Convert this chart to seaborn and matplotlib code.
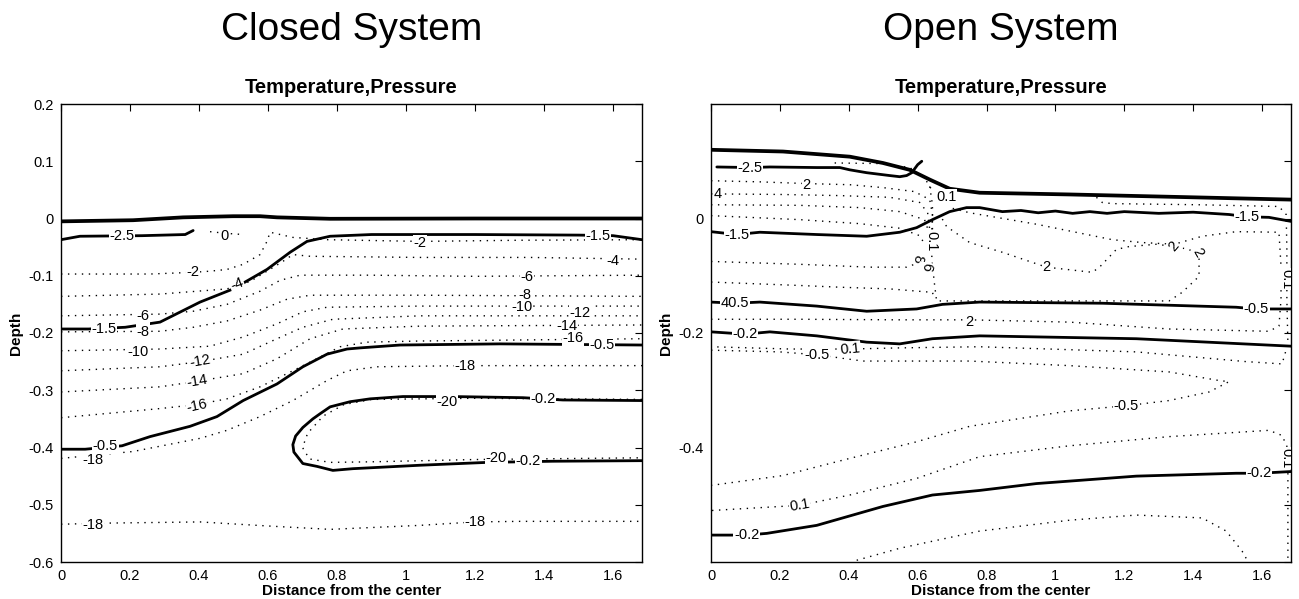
import matplotlib
matplotlib.use("Agg")
import matplotlib.pyplot as plt
import seaborn as sns

sns.set_theme(style="white")
plt.rcParams["font.family"] = ["Liberation Sans", "DejaVu Sans"]
plt.rcParams["axes.unicode_minus"] = False
plt.rcParams["text.color"] = "black"
plt.rcParams["axes.labelcolor"] = "black"
plt.rcParams["xtick.color"] = "black"
plt.rcParams["ytick.color"] = "black"

# ---------------- Closed system: pressure (solid) ----------------
closed_surface_x = [0, 0.209, 0.354, 0.499, 0.577, 0.626, 0.780, 1.2, 1.684]
closed_surface_y = [-0.005, -0.003, 0.002, 0.004, 0.004, 0.002, -0.0005, 0.0, 0.0]

closed_p25_x = [0, 0.055, 0.235, 0.36, 0.383]
closed_p25_y = [-0.037, -0.031, -0.030, -0.028, -0.021]

closed_p15_x = [0, 0.08, 0.186, 0.287, 0.403, 0.499, 0.597, 0.664, 0.713, 0.78, 0.90, 1.2, 1.5, 1.60, 1.684]
closed_p15_y = [-0.193, -0.193, -0.190, -0.181, -0.146, -0.123, -0.089, -0.059, -0.040, -0.031, -0.028, -0.028, -0.029, -0.030, -0.037]

closed_p05_x = [0, 0.07, 0.177, 0.258, 0.374, 0.452, 0.528, 0.626, 0.701, 0.771, 0.829, 0.867, 0.983, 1.272, 1.684]
closed_p05_y = [-0.403, -0.403, -0.397, -0.381, -0.363, -0.346, -0.318, -0.289, -0.259, -0.237, -0.228, -0.226, -0.221, -0.219, -0.221]

closed_p02_x = [1.684, 1.455, 1.339, 1.136, 0.991, 0.896, 0.838, 0.78, 0.751, 0.730, 0.701, 0.680, 0.672, 0.675, 0.701, 0.742, 0.788, 0.846, 1.04, 1.235, 1.426, 1.684]
closed_p02_y = [-0.318, -0.317, -0.313, -0.311, -0.311, -0.315, -0.32, -0.329, -0.341, -0.35, -0.365, -0.380, -0.395, -0.408, -0.428, -0.433, -0.44, -0.437, -0.431, -0.426, -0.424, -0.423]

# ---------------- Closed system: temperature (dotted) ----------------
closed_t0_x = [0.432, 0.48, 0.528]
closed_t0_y = [-0.023, -0.026, -0.028]

closed_tm2_x = [0, 0.258, 0.383, 0.432, 0.481, 0.528, 0.577, 0.597, 0.606, 0.672, 0.771, 1.041, 1.33, 1.684]
closed_tm2_y = [-0.097, -0.097, -0.094, -0.092, -0.089, -0.080, -0.063, -0.040, -0.024, -0.033, -0.037, -0.040, -0.038, -0.037]

closed_tm4_x = [0, 0.287, 0.481, 0.548, 0.597, 0.643, 0.672, 0.722, 1.041, 1.359, 1.684]
closed_tm4_y = [-0.136, -0.132, -0.123, -0.110, -0.092, -0.075, -0.063, -0.066, -0.068, -0.068, -0.071]

closed_tm6_x = [0, 0.287, 0.383, 0.481, 0.577, 0.635, 0.693, 0.896, 1.2, 1.684]
closed_tm6_y = [-0.170, -0.167, -0.162, -0.150, -0.127, -0.108, -0.099, -0.099, -0.101, -0.099]

closed_tm8_x = [0, 0.287, 0.383, 0.481, 0.577, 0.655, 0.722, 1.041, 1.684]
closed_tm8_y = [-0.198, -0.197, -0.190, -0.179, -0.160, -0.141, -0.134, -0.134, -0.136]

closed_tm10_x = [0, 0.287, 0.432, 0.528, 0.626, 0.701, 0.771, 1.041, 1.684]
closed_tm10_y = [-0.231, -0.228, -0.223, -0.207, -0.184, -0.163, -0.155, -0.153, -0.153]

closed_tm12_x = [0, 0.287, 0.403, 0.528, 0.626, 0.701, 0.788, 1.041, 1.684]
closed_tm12_y = [-0.266, -0.259, -0.250, -0.237, -0.210, -0.190, -0.176, -0.170, -0.170]

closed_tm14_x = [0, 0.287, 0.388, 0.528, 0.626, 0.722, 0.817, 1.041, 1.684]
closed_tm14_y = [-0.303, -0.294, -0.285, -0.271, -0.245, -0.210, -0.193, -0.188, -0.186]

closed_tm16_x = [0, 0.287, 0.394, 0.481, 0.577, 0.672, 0.751, 0.809, 0.887, 1.041, 1.684]
closed_tm16_y = [-0.348, -0.332, -0.325, -0.315, -0.294, -0.266, -0.242, -0.224, -0.216, -0.214, -0.210]

closed_tm18_x = [0, 0.209, 0.403, 0.481, 0.577, 0.672, 0.771, 0.829, 0.916, 1.171, 1.684]
closed_tm18_y = [-0.419, -0.407, -0.384, -0.370, -0.346, -0.318, -0.283, -0.266, -0.259, -0.257, -0.257]

closed_tm20_x = [1.684, 1.2, 0.9, 0.82, 0.76, 0.715, 0.700, 0.72, 0.78, 0.9, 1.2, 1.684]
closed_tm20_y = [-0.316, -0.314, -0.316, -0.325, -0.345, -0.375, -0.400, -0.420, -0.426, -0.425, -0.421, -0.418]

closed_tm18b_x = [0, 0.142, 0.403, 0.597, 0.78, 1.041, 1.2, 1.33, 1.684]
closed_tm18b_y = [-0.534, -0.532, -0.530, -0.537, -0.543, -0.536, -0.530, -0.529, -0.529]

closed_label_text = ["-2.5", "0", "-2", "-2", "-1.5", "-1.5", "-4", "-4", "-6", "-6", "-8", "-8",
                     "-10", "-10", "-12", "-12", "-14", "-14", "-16", "-16", "-0.5", "-18",
                     "-0.5", "-18", "-20", "-0.2", "-20", "-0.2", "-18", "-18"]
closed_label_x = [0.177, 0.475, 0.383, 1.041, 0.125, 1.557, 0.510, 1.60, 0.238, 1.351, 0.238, 1.345,
                  0.223, 1.336, 0.403, 1.505, 0.394, 1.465, 0.394, 1.484, 0.128, 0.092,
                  1.568, 1.171, 1.119, 1.397, 1.262, 1.354, 0.093, 1.20]
closed_label_y = [-0.030, -0.031, -0.094, -0.042, -0.193, -0.031, -0.115, -0.075, -0.170, -0.103, -0.198, -0.134,
                  -0.233, -0.155, -0.250, -0.165, -0.285, -0.188, -0.327, -0.209, -0.398, -0.421,
                  -0.221, -0.257, -0.320, -0.315, -0.419, -0.423, -0.536, -0.530]
closed_label_rot = [0, 0, 0, 0, 0, 0, 20, 0, 0, 0, 0, 0,
                    0, 0, 10, 0, 10, 0, 12, 0, 0, 0,
                    0, 0, 0, 0, 0, 0, 0, 0]

# ---------------- Open system: pressure (solid) ----------------
open_surface_x = [0, 0.209, 0.403, 0.499, 0.577, 0.635, 0.693, 0.780, 1.041, 1.330, 1.684]
open_surface_y = [0.120, 0.117, 0.108, 0.097, 0.085, 0.068, 0.052, 0.045, 0.042, 0.038, 0.033]

open_p25_x = [0.017, 0.113, 0.171, 0.307, 0.374, 0.403, 0.452, 0.519, 0.548, 0.568, 0.583, 0.600, 0.612]
open_p25_y = [0.090, 0.089, 0.090, 0.089, 0.089, 0.085, 0.080, 0.075, 0.073, 0.075, 0.080, 0.094, 0.100]

open_p15_x = [0, 0.075, 0.142, 0.307, 0.452, 0.548, 0.597, 0.643, 0.693, 0.742, 0.780, 0.846, 0.90, 0.95,
              1.0, 1.05, 1.1, 1.15, 1.2, 1.3, 1.4, 1.504, 1.557, 1.620, 1.684]
open_p15_y = [-0.023, -0.028, -0.024, -0.028, -0.031, -0.024, -0.016, -0.002, 0.012, 0.019, 0.019, 0.012, 0.014, 0.010,
              0.013, 0.009, 0.012, 0.009, 0.012, 0.009, 0.011, 0.007, 0.003, 0.002, -0.005]

open_p05_x = [0, 0.070, 0.142, 0.307, 0.452, 0.597, 0.672, 0.780, 1.136, 1.525, 1.583, 1.684]
open_p05_y = [-0.146, -0.148, -0.146, -0.153, -0.162, -0.158, -0.150, -0.146, -0.148, -0.155, -0.158, -0.158]

open_p02a_x = [0, 0.099, 0.171, 0.307, 0.452, 0.548, 0.643, 0.780, 1.235, 1.684]
open_p02a_y = [-0.198, -0.202, -0.198, -0.205, -0.216, -0.219, -0.210, -0.205, -0.210, -0.223]

open_p02b_x = [0, 0.104, 0.162, 0.307, 0.499, 0.643, 0.780, 0.945, 1.235, 1.525, 1.591, 1.684]
open_p02b_y = [-0.553, -0.553, -0.550, -0.536, -0.503, -0.483, -0.475, -0.463, -0.450, -0.445, -0.445, -0.442]

# ---------------- Open system: temperature (dotted) ----------------
open_t1_x = [0.359, 0.490, 0.577, 0.620, 0.641]
open_t1_y = [0.097, 0.096, 0.089, 0.071, 0.050]

open_t2_x = [0, 0.142, 0.278, 0.403, 0.499, 0.591, 0.635, 0.643, 0.641]
open_t2_y = [0.066, 0.064, 0.061, 0.059, 0.054, 0.047, 0.033, 0.007, -0.019]

open_t4_x = [0, 0.2, 0.374, 0.519, 0.606, 0.629, 0.635]
open_t4_y = [0.043, 0.042, 0.040, 0.037, 0.028, 0.010, -0.019]

open_t6_x = [0, 0.258, 0.432, 0.548, 0.620, 0.635]
open_t6_y = [0.024, 0.023, 0.019, 0.012, -0.002, -0.028]

open_t8_x = [0, 0.258, 0.432, 0.548, 0.606, 0.629]
open_t8_y = [0.005, -0.002, -0.009, -0.017, -0.030, -0.054]

open_t10_x = [0, 0.258, 0.461, 0.568, 0.600, 0.620]
open_t10_y = [-0.075, -0.080, -0.085, -0.085, -0.078, -0.066]

open_t12_x = [0, 0.258, 0.374, 0.519, 0.643, 0.649]
open_t12_y = [-0.111, -0.117, -0.120, -0.123, -0.129, -0.141]

open_bundle_x = [0.635, 0.643, 0.643, 0.641, 0.649, 0.655, 0.838, 1.128, 1.330, 1.368, 1.417, 1.417, 1.388,
                 1.345, 1.293, 1.214, 1.177, 1.128, 1.107, 0.974, 0.846, 0.751, 0.684, 0.664]
open_bundle_y = [0.056, 0.024, -0.019, -0.071, -0.115, -0.144, -0.144, -0.144, -0.144, -0.129, -0.101, -0.066, -0.054,
                 -0.049, -0.045, -0.049, -0.054, -0.085, -0.094, -0.085, -0.059, -0.042, -0.014, 0.007]

open_t2loop_x = [0, 0.258, 0.548, 0.751, 1.041, 1.330, 1.620, 1.649, 1.655, 1.655, 1.649, 1.525, 1.426, 1.345,
                 1.252, 1.165, 0.945, 0.751, 0.693]
open_t2loop_y = [-0.176, -0.176, -0.177, -0.177, -0.181, -0.193, -0.197, -0.188, -0.141, -0.083, -0.024, -0.023,
                 -0.031, -0.045, -0.042, -0.037, -0.010, 0.010, 0.019]

open_t01_x = [1.119, 1.136, 1.165, 1.417, 1.649, 1.670, 1.672, 1.672, 1.675, 1.658, 1.554, 1.235, 0.780, 0.548,
              0.403, 0.229, 0]
open_t01_y = [0.037, 0.028, 0.026, 0.024, 0.021, 0.007, -0.054, -0.141, -0.219, -0.254, -0.250, -0.233, -0.224,
              -0.226, -0.228, -0.228, -0.224]

open_tm05_x = [0.0, 0.2, 0.307, 0.441, 0.751, 1.041, 1.330, 1.475, 1.504, 1.446, 1.330, 1.206, 1.041, 0.751, 0.597,
               0.403, 0.209, 0.003]
open_tm05_y = [-0.230, -0.233, -0.238, -0.249, -0.249, -0.257, -0.268, -0.283, -0.285, -0.303, -0.318, -0.327,
               -0.336, -0.363, -0.390, -0.419, -0.449, -0.466]

open_t01b_x = [0.003, 0.258, 0.403, 0.597, 0.780, 1.041, 1.330, 1.620, 1.658, 1.675, 1.675, 1.675]
open_t01b_y = [-0.510, -0.501, -0.483, -0.454, -0.416, -0.397, -0.381, -0.370, -0.379, -0.402, -0.49, -0.597]

open_tbot_x = [0.423, 0.548, 0.780, 1.041, 1.235, 1.426, 1.496, 1.542, 1.557]
open_tbot_y = [-0.597, -0.576, -0.546, -0.527, -0.518, -0.523, -0.546, -0.581, -0.597]

open_label_text = ["-2.5", "2", "4", "0.1", "-1.5", "-1.5", "0.1", "8", "6", "2", "2", "2",
                   "40.5", "-0.5", "2", "-0.2", "-0.5", "0.1", "-0.5", "0.1", "-0.2", "-0.2", "0.1", "0.1"]
open_label_x = [0.113, 0.278, 0.020, 0.684, 0.075, 1.557, 0.641, 0.600, 0.626, 0.974, 1.345, 1.412,
                0.070, 1.583, 0.751, 0.099, 0.307, 0.403, 1.206, 0.258, 0.104, 1.591, 1.672, 1.672]
open_label_y = [0.089, 0.059, 0.042, 0.038, -0.028, 0.003, -0.040, -0.071, -0.085, -0.085, -0.049, -0.059,
                -0.148, -0.158, -0.181, -0.202, -0.238, -0.228, -0.327, -0.501, -0.553, -0.445, -0.106, -0.419]
open_label_rot = [0, 0, 0, 0, 0, 0, -90, -100, -100, 0, 50, -60,
                  0, 0, 0, 0, 0, 5, 0, 10, 0, 0, -90, -90]

x_ticks = [0, 0.2, 0.4, 0.6, 0.8, 1.0, 1.2, 1.4, 1.6]
x_tick_labels = ["0", "0.2", "0.4", "0.6", "0.8", "1", "1.2", "1.4", "1.6"]
y_ticks = [-0.6, -0.5, -0.4, -0.3, -0.2, -0.1, 0.0, 0.1, 0.2]
closed_y_tick_labels = ["-0.6", "-0.5", "-0.4", "-0.3", "-0.2", "-0.1", "0", "0.1", "0.2"]
open_y_tick_labels = ["", "", "-0.4", "", "-0.2", "", "0", "", ""]

closed_lines = [
    (closed_surface_x, closed_surface_y, "thick"),
    (closed_p25_x, closed_p25_y, "solid"),
    (closed_p15_x, closed_p15_y, "solid"),
    (closed_p05_x, closed_p05_y, "solid"),
    (closed_p02_x, closed_p02_y, "solid"),
    (closed_t0_x, closed_t0_y, "dot"),
    (closed_tm2_x, closed_tm2_y, "dot"),
    (closed_tm4_x, closed_tm4_y, "dot"),
    (closed_tm6_x, closed_tm6_y, "dot"),
    (closed_tm8_x, closed_tm8_y, "dot"),
    (closed_tm10_x, closed_tm10_y, "dot"),
    (closed_tm12_x, closed_tm12_y, "dot"),
    (closed_tm14_x, closed_tm14_y, "dot"),
    (closed_tm16_x, closed_tm16_y, "dot"),
    (closed_tm18_x, closed_tm18_y, "dot"),
    (closed_tm20_x, closed_tm20_y, "dot"),
    (closed_tm18b_x, closed_tm18b_y, "dot"),
]
open_lines = [
    (open_surface_x, open_surface_y, "thick"),
    (open_p25_x, open_p25_y, "solid"),
    (open_p15_x, open_p15_y, "solid"),
    (open_p05_x, open_p05_y, "solid"),
    (open_p02a_x, open_p02a_y, "solid"),
    (open_p02b_x, open_p02b_y, "solid"),
    (open_t1_x, open_t1_y, "dot"),
    (open_t2_x, open_t2_y, "dot"),
    (open_t4_x, open_t4_y, "dot"),
    (open_t6_x, open_t6_y, "dot"),
    (open_t8_x, open_t8_y, "dot"),
    (open_t10_x, open_t10_y, "dot"),
    (open_t12_x, open_t12_y, "dot"),
    (open_bundle_x, open_bundle_y, "dot"),
    (open_t2loop_x, open_t2loop_y, "dot"),
    (open_t01_x, open_t01_y, "dot"),
    (open_tm05_x, open_tm05_y, "dot"),
    (open_t01b_x, open_t01b_y, "dot"),
    (open_tbot_x, open_tbot_y, "dot"),
]

STYLES = {
    "thick": dict(linewidth=2.7, linestyle="-"),
    "solid": dict(linewidth=2.0, linestyle="-"),
    "dot": dict(linewidth=1.0, linestyle=(0, (1, 4))),
}

fig = plt.figure(figsize=(12.99, 5.99), dpi=100)
ax1 = fig.add_axes([61 / 1299, 37 / 599, 581 / 1299, 458 / 599])
ax2 = fig.add_axes([711 / 1299, 37 / 599, 580 / 1299, 458 / 599])


def draw_panel(ax, lines, ltext, lx, ly, lrot, ytlabels, title):
    for xs, ys, kind in lines:
        sns.lineplot(x=xs, y=ys, sort=False, estimator=None, ax=ax, color="black",
                     zorder=2 if kind != "dot" else 1, **STYLES[kind])
    for t, x, y, r in zip(ltext, lx, ly, lrot):
        ax.text(x, y, t, ha="center", va="center", rotation=r, fontsize=10.5, zorder=3,
                color="black", bbox=dict(facecolor="white", edgecolor="none", pad=0.5),
                clip_on=True)
    ax.set_xlim(0, 1.684)
    ax.set_ylim(-0.6, 0.2)
    ax.set_xticks(x_ticks)
    ax.set_xticklabels(x_tick_labels)
    ax.set_yticks(y_ticks)
    ax.set_yticklabels(ytlabels)
    ax.tick_params(direction="in", top=True, right=True, length=5, width=0.8,
                   labelsize=10.5, colors="black", pad=5)
    for s in ax.spines.values():
        s.set_color("black")
        s.set_linewidth(1.0)
    ax.set_xlabel("Distance from the center", fontsize=11, fontweight="bold", labelpad=1)
    ax.set_ylabel("Depth", fontsize=11, fontweight="bold", labelpad=4)
    ax.set_title("Temperature,Pressure", fontsize=14.5, fontweight="bold", pad=8, color="black")
    pos = ax.get_position()
    fig.text((pos.x0 + pos.x1) / 2, 1 - 30 / 599, title,
             ha="center", va="center", fontsize=28, color="black")
    ax.grid(False)


draw_panel(ax1, closed_lines, closed_label_text, closed_label_x, closed_label_y, closed_label_rot,
           closed_y_tick_labels, "Closed System")
draw_panel(ax2, open_lines, open_label_text, open_label_x, open_label_y, open_label_rot,
           open_y_tick_labels, "Open System")

fig.savefig("out.png", dpi=100, facecolor="white")
